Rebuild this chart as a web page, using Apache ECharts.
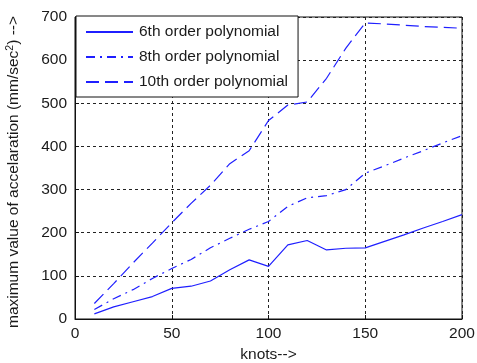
<!DOCTYPE html>
<html>
<head>
<meta charset="utf-8">
<script src="https://cdn.jsdelivr.net/npm/echarts@6/dist/echarts.min.js"></script>
<style>
  html, body { margin: 0; padding: 0; background: #ffffff; }
  #chart { width: 477px; height: 363px; }
</style>
</head>
<body>
<div id="chart"></div>
<script>
// knots (x) and maximum acceleration (mm/sec^2) for each polynomial order
const knots = [10, 20, 30, 40, 50, 60, 70, 80, 90, 100, 110, 120, 130, 140, 150, 160, 170, 180, 190, 200];
const order6 = [12, 28, 40, 52, 71, 76, 88, 114, 137, 122, 172, 182, 160, 164, 165, 180, 195, 211, 226, 242];
const order8 = [22, 47, 68, 94, 117, 138, 165, 187, 208, 226, 261, 281, 286, 300, 338, 355, 373, 390, 408, 425];
const order10 = [36, 82, 130, 176, 223, 268, 310, 360, 390, 460, 496, 503, 558, 628, 686, 684, 681, 678, 676, 674];
const seriesNames = ['6th order polynomial', '8th order polynomial', '10th order polynomial'];
const xTicks = { min: 0, max: 200, interval: 50 };
const yTicks = { min: 0, max: 700, interval: 100 };

const pairs = (ys) => knots.map((k, i) => [k, ys[i]]);
const font = 'Liberation Sans, Arial, sans-serif';
const textColor = '#1a1a1a';
const blue = '#1f1fff';
const gridDots = { color: '#222', type: [3, 3], width: 1 };

const chart = echarts.init(document.getElementById('chart'));
chart.setOption({
  animation: false,
  backgroundColor: '#ffffff',
  grid: {
    left: 75, right: 15, top: 17, bottom: 44,
    containLabel: false, outerBoundsMode: 'none',
    show: true, borderColor: '#111', borderWidth: 1, backgroundColor: '#ffffff'
  },
  legend: {
    left: 76, top: 16,
    orient: 'vertical',
    backgroundColor: '#ffffff',
    borderColor: '#111', borderWidth: 1, borderRadius: 0,
    padding: [8, 10, 7, 9],
    itemWidth: 47, itemHeight: 14, itemGap: 9,
    itemStyle: { opacity: 0 },
    textStyle: { fontFamily: font, fontSize: 15.5, color: textColor, padding: [0, 0, 0, 1] },
    data: seriesNames
  },
  xAxis: {
    type: 'value', min: xTicks.min, max: xTicks.max, interval: xTicks.interval,
    name: 'knots-->', nameLocation: 'middle', nameGap: 25,
    nameTextStyle: { fontFamily: font, fontSize: 15.5, color: textColor },
    axisLine: { show: true, lineStyle: { color: '#111' } },
    axisTick: { show: true, inside: true, length: 4, lineStyle: { color: '#111' } },
    axisLabel: { fontFamily: font, fontSize: 15.5, color: textColor, margin: 7 },
    splitLine: { show: true, lineStyle: gridDots }
  },
  yAxis: {
    type: 'value', min: yTicks.min, max: yTicks.max, interval: yTicks.interval,
    name: 'maximum value of accelaration (mm/sec{sup|2}) -->', nameLocation: 'middle', nameGap: 52,
    nameTextStyle: {
      fontFamily: font, fontSize: 15.5, color: textColor, lineHeight: 18,
      padding: [0, 8, 0, 0],
      rich: { sup: { fontFamily: font, fontSize: 10.5, color: textColor, verticalAlign: 'top', lineHeight: 18 } }
    },
    axisLine: { show: true, lineStyle: { color: '#111' } },
    axisTick: { show: true, inside: true, length: 4, lineStyle: { color: '#111' } },
    axisLabel: { fontFamily: font, fontSize: 15.5, color: textColor, margin: 8 },
    splitLine: { show: true, lineStyle: gridDots }
  },
  series: [
    {
      name: seriesNames[0], type: 'line', data: pairs(order6),
      showSymbol: false, symbol: 'none',
      lineStyle: { color: blue, width: 1.2, type: 'solid' },
      itemStyle: { color: blue }
    },
    {
      name: seriesNames[1], type: 'line', data: pairs(order8),
      showSymbol: false, symbol: 'none',
      lineStyle: { color: blue, width: 1.2, type: [9, 5, 2, 5] },
      itemStyle: { color: blue }
    },
    {
      name: seriesNames[2], type: 'line', data: pairs(order10),
      showSymbol: false, symbol: 'none',
      lineStyle: { color: blue, width: 1.2, type: [13, 6] },
      itemStyle: { color: blue }
    }
  ]
});
</script>
</body>
</html>
